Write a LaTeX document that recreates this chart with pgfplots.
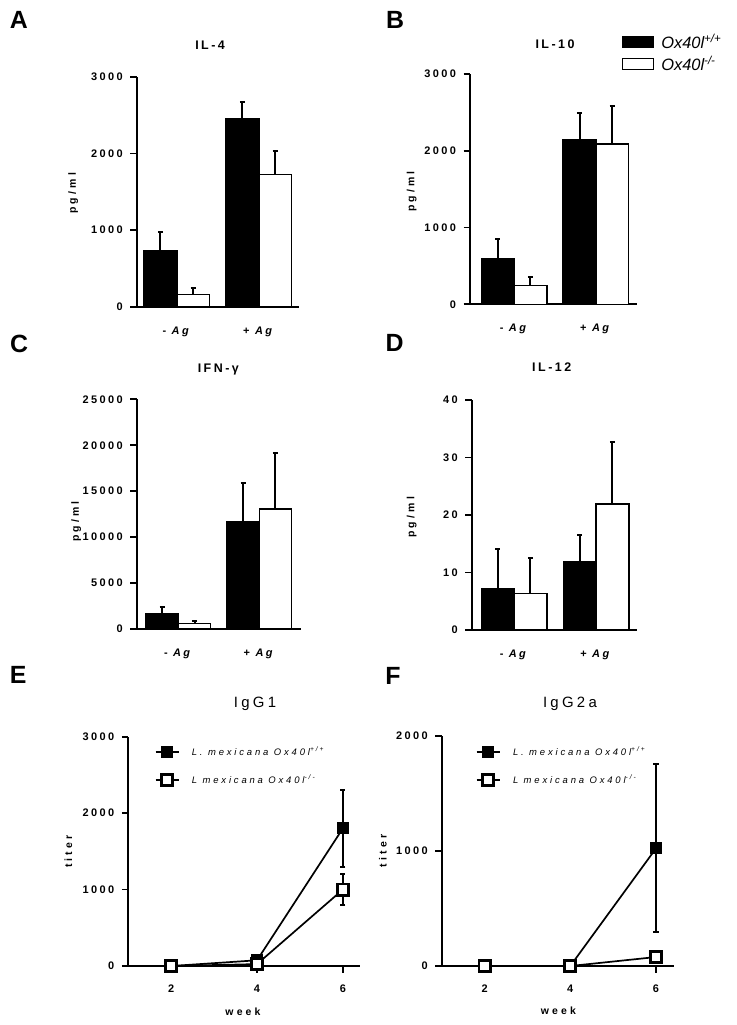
\documentclass[border=0pt]{standalone}
\usepackage{fontspec}
\setmainfont{Liberation Sans}
\usepackage{pgfplots}
\pgfplotsset{compat=1.18}
\newfontfamily\spA[LetterSpace=22]{Liberation Sans}
\newfontfamily\spB[LetterSpace=20]{Liberation Sans}
\newfontfamily\spC[LetterSpace=30]{Liberation Sans}
\newfontfamily\spD[LetterSpace=30]{Liberation Sans}
\newcommand\tickf{\spA\bfseries\fontsize{11}{13}\selectfont}
\newcommand\titf{\spB\bfseries\fontsize{12.5}{14}\selectfont}
\newcommand\labf{\spC\bfseries\fontsize{10.5}{12}\selectfont}
\newcommand\titE{\spA\fontsize{15}{17}\selectfont}
\newcommand\legE{\spD\itshape\fontsize{9.5}{11}\selectfont}
\newcommand\legB{\normalfont\itshape\fontsize{16.5}{19}\selectfont}
\newcommand\letf{\normalfont\bfseries\fontsize{25}{28}\selectfont}

\pgfplotsset{
 gp/.style={scale only axis, clip=false, axis x line*=bottom, axis y line*=left,
   axis line style={line width=1.7bp,-}, tick align=outside, major tick length=6.5bp,
   tick style={line width=1.7bp, black}, ticklabel style={font=\tickf},
   yticklabel style={xshift=-4bp},
   scaled y ticks=false, every axis title shift=0pt,
   ylabel style={font=\labf}, xlabel style={font=\labf}, ymin=0,
   x axis line style={shorten <=-5bp}},
 barax/.style={gp, xtick={0,1}, xticklabels={{- \textit{Ag}},{+ \textit{Ag}}},
   xtick style={draw=none}, xticklabel style={yshift=-10bp}, title style={font=\titf}},
 eb/.style={error bars/y dir=#1, error bars/y explicit,
   error bars/error bar style={line width=2bp,black},
   error bars/error mark options={rotate=90, line width=2bp, mark size=2.6bp, black}},
 bblack/.style={ybar, bar width=0.4, bar shift=0, fill=black, draw=black, line width=1.4bp, eb=plus},
 bwhite/.style={ybar, bar width=0.4, bar shift=0, fill=white, draw=black, line width=1.4bp, eb=plus},
 lineleg/.style={legend image code/.code={\draw[mark repeat=2,mark phase=2,##1] plot coordinates {(0bp,0bp) (11.5bp,0bp) (23bp,0bp)};}},
 lblack/.style={black, line width=1.7bp, mark=square*, mark size=5.5bp, mark options={fill=black, solid, line width=1bp}, eb=both},
 lwhite/.style={black, line width=1.7bp, mark=square*, mark size=5.6bp, mark options={fill=white, solid, line width=2.8bp}, eb=both},
}

\begin{document}
\begin{tikzpicture}
\path[use as bounding box] (0,0) rectangle (737bp,-1025bp);

% panel letters
\node[font=\letf] at (18.8bp,-19.5bp) {A};
\node[font=\letf] at (395bp,-20bp) {B};
\node[font=\letf] at (19bp,-343.5bp) {C};
\node[font=\letf] at (394.7bp,-343bp) {D};
\node[font=\letf] at (18.3bp,-674.5bp) {E};
\node[font=\letf] at (393bp,-675.5bp) {F};

% A: IL-4
\begin{axis}[barax, at={(136.7bp,-306.7bp)}, anchor=south west, width=162.3bp, height=230bp,
  xmin=-0.49, xmax=1.49, ymax=3000, ytick={0,1000,2000,3000}, yticklabels={0,1000,2000,3000},
  title={IL-4}, title style={at={(axis description cs:0.452,1.138)}, anchor=center},
  ylabel={pg/ml}, ylabel style={at={(axis description cs:-0.392,0.493)}, anchor=center}]
\addplot[bblack] coordinates {(-0.2,730) +- (0,249) (0.8,2448) +- (0,226)};
\addplot[bwhite] coordinates {(0.2,161) +- (0,79) (1.2,1727) +- (0,304)};
\end{axis}

% B: IL-10
\begin{axis}[barax, at={(470bp,-304.3bp)}, anchor=south west, width=166.7bp, height=230.3bp,
  xmin=-0.54, xmax=1.5, ymax=3000, ytick={0,1000,2000,3000}, yticklabels={0,1000,2000,3000},
  title={IL-10}, title style={at={(axis description cs:0.51,1.130)}, anchor=center},
  ylabel={pg/ml}, ylabel style={at={(axis description cs:-0.35,0.489)}, anchor=center},
  legend style={at={(axis description cs:0.908,1.192)}, anchor=north west, draw=none, fill=none,
    inner sep=0pt, font=\legB, nodes={inner sep=3.8bp}, row sep=-1.5bp},
  legend cell align=left]
\addplot[forget plot, bblack] coordinates {(-0.2,594) +- (0,253) (0.8,2149) +- (0,347)};
\addplot[forget plot, bwhite] coordinates {(0.2,242) +- (0,118) (1.2,2088) +- (0,495)};
\addlegendimage{legend image code/.code={\draw[line width=1.4bp, black, fill=black] (0bp,-5.3bp) rectangle (31bp,5.3bp);}}
\addlegendentry{\hspace{3.5bp}Ox40l\textsuperscript{+/+}}
\addlegendimage{legend image code/.code={\draw[line width=1.4bp, black, fill=white] (0bp,-5.3bp) rectangle (31bp,5.3bp);}}
\addlegendentry{\hspace{3.5bp}Ox40l\textsuperscript{-/-}}
\end{axis}

% C: IFN-gamma
\begin{axis}[barax, at={(136.7bp,-629bp)}, anchor=south west, width=164.3bp, height=229.7bp,
  xmin=-0.514, xmax=1.515, ymax=25000, ytick={0,5000,10000,15000,20000,25000},
  yticklabels={0,5000,10000,15000,20000,25000},
  title={IFN-γ}, title style={at={(axis description cs:0.497,1.128)}, anchor=center},
  ylabel={pg/ml}, ylabel style={at={(axis description cs:-0.369,0.467)}, anchor=center}]
\addplot[bblack] coordinates {(-0.2,1709) +- (0,718) (0.8,11646) +- (0,4279)};
\addplot[bwhite] coordinates {(0.2,620) +- (0,283) (1.2,13060) +- (0,6060)};
\end{axis}

% D: IL-12
\begin{axis}[barax, at={(471.7bp,-630bp)}, anchor=south west, width=165bp, height=230bp,
  xmin=-0.516, xmax=1.496, ymax=40, ytick={0,10,20,30,40}, yticklabels={0,10,20,30,40},
  title={IL-12}, title style={at={(axis description cs:0.485,1.142)}, anchor=center},
  ylabel={pg/ml}, ylabel style={at={(axis description cs:-0.364,0.49)}, anchor=center}]
\addplot[bblack] coordinates {(-0.2,7.19) +- (0,6.84) (0.8,11.83) +- (0,4.63)};
\addplot[bwhite] coordinates {(0.2,6.32) +- (0,6.26) (1.2,21.91) +- (0,10.84)};
\end{axis}

% E: IgG1
\begin{axis}[gp, lineleg, at={(128.3bp,-966bp)}, anchor=south west, width=231.7bp, height=229.3bp,
  xmin=1, xmax=6.4, ymax=3000, xtick={2,4,6}, xticklabels={2,4,6}, xticklabel style={yshift=-9bp},
  ytick={0,1000,2000,3000}, yticklabels={0,1000,2000,3000},
  title={IgG1}, title style={font=\titE, at={(axis description cs:0.547,1.143)}, anchor=center},
  xlabel={week}, xlabel style={at={(axis description cs:0.495,-0.199)}, anchor=center},
  ylabel={titer}, ylabel style={at={(axis description cs:-0.259,0.498)}, anchor=center},
  legend style={at={(axis description cs:0.113,0.968)}, anchor=north west, draw=none, fill=none,
    inner sep=0pt, font=\legE, nodes={inner sep=2.5bp}, row sep=13bp},
  legend cell align=left]
\addplot[lblack] coordinates {(2,0) (4,75) (6,1800) += (0,500) -= (0,510)};
\addlegendentry{\hspace{10bp}L. mexicana Ox40l\textsuperscript{+/+}}
\addplot[lwhite] coordinates {(2,0) (4,25) (6,1000) += (0,200) -= (0,200)};
\addlegendentry{\hspace{10bp}L mexicana Ox40l\textsuperscript{-/-}}
\end{axis}

% F: IgG2a
\begin{axis}[gp, lineleg, at={(441.7bp,-966bp)}, anchor=south west, width=232.3bp, height=230bp,
  xmin=1, xmax=6.42, ymax=2000, xtick={2,4,6}, xticklabels={2,4,6}, xticklabel style={yshift=-9bp},
  ytick={0,1000,2000}, yticklabels={0,1000,2000},
  title={IgG2a}, title style={font=\titE, at={(axis description cs:0.552,1.139)}, anchor=center},
  xlabel={week}, xlabel style={at={(axis description cs:0.502,-0.194)}, anchor=center},
  ylabel={titer}, ylabel style={at={(axis description cs:-0.253,0.5)}, anchor=center},
  legend style={at={(axis description cs:0.146,0.965)}, anchor=north west, draw=none, fill=none,
    inner sep=0pt, font=\legE, nodes={inner sep=2.5bp}, row sep=13bp},
  legend cell align=left]
\addplot[lblack] coordinates {(2,0) (4,0) (6,1023) += (0,731) -= (0,730)};
\addlegendentry{\hspace{10bp}L. mexicana Ox40l\textsuperscript{+/+}}
\addplot[lwhite] coordinates {(2,0) (4,0) (6,78)};
\addlegendentry{\hspace{10bp}L mexicana Ox40l\textsuperscript{-/-}}
\end{axis}
\end{tikzpicture}
\end{document}
